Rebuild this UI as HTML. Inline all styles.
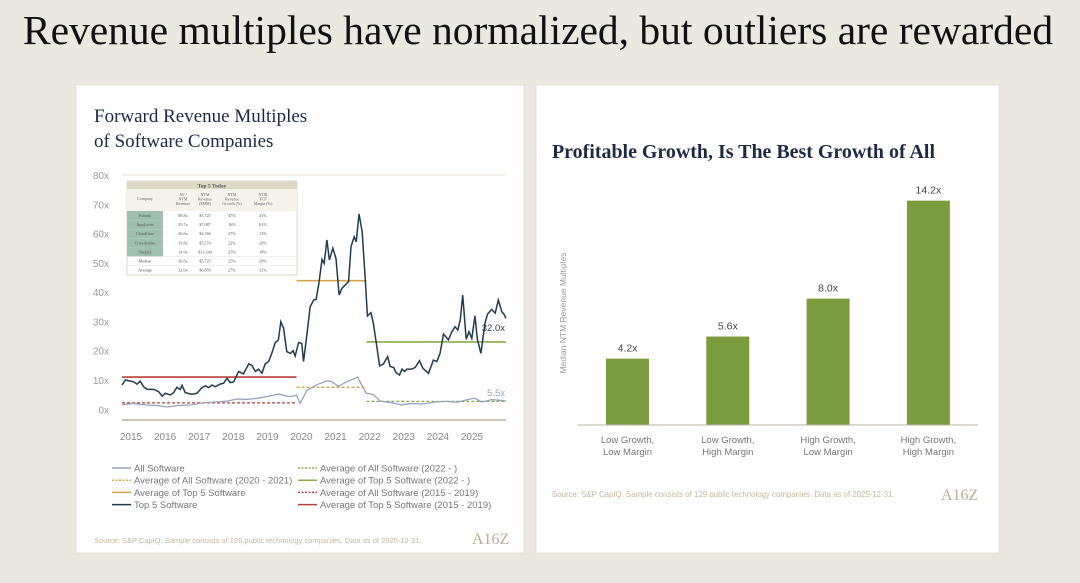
<!DOCTYPE html>
<html><head><meta charset="utf-8">
<style>
html,body{margin:0;padding:0;width:1080px;height:583px;overflow:hidden;background:#ebe8df;}
svg{display:block;font-family:"Liberation Sans",sans-serif;}
.serif{font-family:"Liberation Serif",serif;}
</style></head>
<body>
<svg id="s" width="1080" height="583" viewBox="0 0 1080 583">
<rect x="0" y="0" width="1080" height="583" fill="#ebe8df"/>
<text class="serif" x="538" y="44" text-anchor="middle" font-size="41.5" fill="#111">Revenue multiples have normalized, but outliers are rewarded</text>
<rect x="76" y="85" width="448" height="468" fill="#fff" stroke="#e4e0d2"/>
<rect x="536" y="85" width="463" height="468" fill="#fff" stroke="#e4e0d2"/>
<text class="serif" x="94" y="122" font-size="19" fill="#1c2a44">Forward Revenue Multiples</text>
<text class="serif" x="94" y="147" font-size="19" fill="#1c2a44">of Software Companies</text>
<text class="serif" x="552" y="158" font-size="19.5" font-weight="bold" fill="#1c2a44" textLength="383" lengthAdjust="spacingAndGlyphs">Profitable Growth, Is The Best Growth of All</text>
<g id="left"></g>
<g id="right"></g>
</svg>
<script>
const NS="http://www.w3.org/2000/svg";
function mk(p,t,a){const e=document.createElementNS(NS,t);for(const k in a)e.setAttribute(k,a[k]);p.appendChild(e);return e;}
// ---- Left chart data ----
const yTicks=[0,10,20,30,40,50,60,70,80];
const xYears=[2015,2016,2017,2018,2019,2020,2021,2022,2023,2024,2025];
const top5Dates=[2015.00,2015.10,2015.33,2015.43,2015.52,2015.62,2015.72,2015.91,2016.05,2016.15,2016.24,2016.38,2016.48,2016.57,2016.67,2016.72,2016.81,2017.00,2017.15,2017.29,2017.39,2017.48,2017.58,2017.67,2017.81,2017.91,2018.01,2018.10,2018.20,2018.34,2018.48,2018.63,2018.72,2018.82,2018.91,2019.01,2019.10,2019.20,2019.29,2019.39,2019.48,2019.55,2019.63,2019.72,2019.82,2019.90,2019.96,2020.06,2020.15,2020.20,2020.30,2020.39,2020.49,2020.56,2020.64,2020.73,2020.79,2020.87,2020.94,2021.04,2021.13,2021.22,2021.30,2021.39,2021.49,2021.56,2021.65,2021.71,2021.79,2021.88,2021.97,2022.03,2022.13,2022.20,2022.30,2022.38,2022.49,2022.61,2022.68,2022.78,2022.85,2022.95,2023.02,2023.09,2023.16,2023.30,2023.40,2023.52,2023.62,2023.78,2023.92,2024.02,2024.11,2024.21,2024.35,2024.45,2024.54,2024.62,2024.69,2024.76,2024.86,2024.94,2025.02,2025.11,2025.18,2025.28,2025.40,2025.47,2025.59,2025.69,2025.78,2025.88,2025.94,2026.00];
const top5Values=[8.3,10,9.4,8.6,9.6,7.7,6.8,6.8,6.0,4.5,5.5,4.9,5.7,7.5,6.8,8.2,5.7,5.1,5.5,7.4,8.0,7.4,8.3,7.7,8.6,8.9,10.6,9.1,9.4,12.9,12.1,15.5,15.0,12.9,13.7,12.3,15.5,16.3,19.1,22.8,23.7,29.9,27.6,19.7,19.1,20.0,18.2,22.8,22.5,16.3,25.9,35.0,37.3,37.5,43.0,51.2,49.8,57.8,51.0,55.0,51.5,39.0,41.3,42.4,43.6,55.5,58.9,57.2,66.7,60.6,44.1,31.9,33.0,29.4,21.4,14.8,15.5,18.0,14.6,14.3,12.5,11.7,13.7,12.9,13.7,13.7,14.3,16.6,14.0,12.3,16.8,16.3,19.1,25.7,23.7,26.5,28.2,27.1,30.5,39.0,23.9,26.5,24.2,31.9,23.9,19.1,29.4,32.5,34.1,32.8,37.3,33.3,32.5,31.1];
const allDates=[2015.0,2015.3,2015.7,2016.0,2016.3,2016.6,2017.0,2017.3,2017.7,2018.0,2018.3,2018.6,2018.9,2019.2,2019.5,2019.8,2020.0,2020.1,2020.3,2020.6,2020.9,2021.0,2021.2,2021.4,2021.6,2021.75,2021.9,2022.0,2022.2,2022.4,2022.7,2023.0,2023.3,2023.6,2024.0,2024.3,2024.6,2024.9,2025.1,2025.3,2025.6,2025.9,2026.0];
const allValues=[1.5,2,1.5,1.3,0.8,1.3,1.5,2.2,2.5,2.8,3.5,3.4,3.8,4.5,5.2,4.3,4.8,2.0,6.5,8.5,9.8,9.5,7.8,9.2,10.2,11,7.5,5.5,5.0,2.8,2.3,1.5,2.0,1.8,2.5,2.7,2.4,3.3,3.8,2.5,3.3,3.0,2.8];
const avgStarts=[2015,2015,2020,2020,2022,2022];
const avgEnds=[2020,2020,2022,2022,2026,2026];
const avgValues=[11.0,2.2,43.9,7.5,23.0,2.7];
const avgColors=["#b5413a","#b5413a","#d7a24f","#d7a24f","#86ad4a","#86ad4a"];
const avgDashed=[false,true,false,true,false,true];
const avgNames=["avg-top5-2015-2019","avg-all-2015-2019","avg-top5-2020-2021","avg-all-2020-2021","avg-top5-2022","avg-all-2022"];
const X0=122,X1=506,Y0=409.3,Y80=175;
const xs=t=>X0+(t-2015)/11*(X1-X0);
const xl=y=>131+(y-2015)*34.1;
const ys=v=>Y0-v/80*(Y0-Y80);
const L=document.getElementById('left');
yTicks.forEach(v=>{const t=mk(L,'text',{x:109,y:ys(v)+4,'text-anchor':'end','font-size':10,fill:'#9a9a9a'});t.textContent=v+'x';

});
const gl=mk(L,'line',{x1:122,x2:506,y1:ys(80),y2:ys(80),stroke:'#efece4','stroke-width':1.5});


const bl=mk(L,'line',{x1:122,x2:506,y1:420,y2:420,stroke:'#b8b3a0','stroke-width':1.5});


xYears.forEach(y=>{const t=mk(L,'text',{x:xl(y),y:440,'text-anchor':'middle','font-size':10,fill:'#888'});t.textContent=y;

});
avgValues.forEach((v,i)=>{const l=mk(L,'line',{x1:xs(avgStarts[i]),x2:xs(avgEnds[i]),y1:ys(v),y2:ys(v),stroke:avgColors[i],'stroke-width':avgDashed[i]?1.3:1.6,'stroke-dasharray':avgDashed[i]?'3,2':'none'});

});
const pa=mk(L,'polyline',{points:allDates.map((d,i)=>xs(d)+','+ys(allValues[i])).join(' '),fill:'none',stroke:'#97a3bf','stroke-width':1.3});


const pt=mk(L,'polyline',{points:top5Dates.map((d,i)=>xs(d)+','+ys(top5Values[i])).join(' '),fill:'none',stroke:'#1f3c4f','stroke-width':1.5});


let lb=mk(L,'text',{x:505,y:331,'text-anchor':'end','font-size':9.5,fill:'#1f3c4f'});lb.textContent='32.0x';


lb=mk(L,'text',{x:505,y:396,'text-anchor':'end','font-size':9.5,fill:'#97a3bf'});lb.textContent='5.5x';


// table
const T=mk(L,'g',{});


mk(T,'rect',{x:127,y:181,width:170,height:94,fill:'#fff',stroke:'#ddd8c8'});
mk(T,'rect',{x:127,y:181,width:170,height:8,fill:'#ddd9c6'});
mk(T,'rect',{x:127,y:189,width:170,height:22,fill:'#f5f2ea'});
let tt=mk(T,'text',{x:212,y:187.5,'text-anchor':'middle','font-size':5.5,'font-weight':'bold',fill:'#555','font-family':'Liberation Serif'});tt.textContent='Top 5 Today';
const cols=[145,173,195,222,253];
const heads=[['Company'],['AV /','NTM','Revenue'],['NTM','Revenue','($MM)'],['NTM','Revenue','Growth (%)'],['NTM','FCF','Margin (%)']];
heads.forEach((h,i)=>h.forEach((s,j)=>{const e=mk(T,'text',{x:cols[i]+ (i? 10:0),y:196+j*4.5+(h.length==1?4:0),'text-anchor':'middle','font-size':4,fill:'#666','font-family':'Liberation Serif'});e.textContent=s;}));
const rows=[['Palantir','68.8x','$5,725','47%','41%'],['AppLovin','29.7x','$7,087','16%','61%'],['Cloudflare','26.6x','$2,566','27%','13%'],['Crowdstrike','19.8x','$5,574','22%','29%'],['Shopify','14.9x','$13,344','25%','18%'],['Median','26.6x','$5,725','25%','29%'],['Average','32.0x','$6,859','27%','32%']];
rows.forEach((r,k)=>{const y=211+k*9.1;
if(k<5)mk(T,'rect',{x:127,y:y,width:36,height:9.1,fill:'#9fc0ad'});
if(k>=5)mk(T,'line',{x1:127,x2:297,y1:y,y2:y,stroke:'#e5e1d5','stroke-width':0.5});
r.forEach((s,i)=>{const e=mk(T,'text',{x:cols[i]+(i?10:0),y:y+6,'text-anchor':'middle','font-size':4.2,fill:'#555','font-family':'Liberation Serif'});e.textContent=s;});});
// legend
const legL=[['All Software','#97a3bf',0],['Average of All Software (2020 - 2021)','#d7a24f',1],['Average of Top 5 Software','#d7a24f',0],['Top 5 Software','#1f3c4f',0]];
const legR=[['Average of All Software (2022 - )','#86ad4a',1],['Average of Top 5 Software (2022 - )','#86ad4a',0],['Average of All Software (2015 - 2019)','#b5413a',1],['Average of Top 5 Software (2015 - 2019)','#b5413a',0]];
[[legL,112],[legR,298]].forEach(([arr,x0])=>arr.forEach((e,i)=>{const y=468+i*12.2;
const g=mk(L,'g',{});


mk(g,'line',{x1:x0,x2:x0+19,y1:y,y2:y,stroke:e[1],'stroke-width':1.5,'stroke-dasharray':e[2]?'2,1.5':'none'});
const t=mk(g,'text',{x:x0+22,y:y+3.5,'font-size':9.5,fill:'#777'});t.textContent=e[0];}));
lb=mk(L,'text',{x:94,y:543,'font-size':7.5,fill:'#c4b89a'});lb.textContent='Source: S&P CapIQ. Sample consists of 126 public technology companies. Data as of 2025-12-31.';


lb=mk(L,'text',{x:472,y:544,'font-size':16,fill:'#b9ae92','font-family':'Liberation Serif'});lb.textContent='A16Z';


// ---- Right chart ----
const cats=[['Low Growth,','Low Margin'],['Low Growth,','High Margin'],['High Growth,','Low Margin'],['High Growth,','High Margin']];
const barValues=[4.2,5.6,8.0,14.2];
const barLabels=['4.2x','5.6x','8.0x','14.2x'];
const R=document.getElementById('right');
const BY=425,PX=15.8,BW=43;
const bx=i=>627.5+i*100.3;
const by=v=>BY-v*PX;
barValues.forEach((v,i)=>{const r=mk(R,'rect',{x:bx(i)-BW/2,y:by(v),width:BW,height:BY-by(v),fill:'#7a9c3e'});


const t=mk(R,'text',{x:bx(i),y:by(v)-7,'text-anchor':'middle','font-size':10.5,fill:'#444'});t.textContent=barLabels[i];


cats[i].forEach((s,j)=>{const c=mk(R,'text',{x:bx(i),y:443+j*12,'text-anchor':'middle','font-size':9.5,fill:'#777'});c.textContent=s;

});});
const ax=mk(R,'line',{x1:578,x2:978,y1:BY,y2:BY,stroke:'#b8b3a0','stroke-width':1});


lb=mk(R,'text',{x:0,y:0,'font-size':8.5,fill:'#999','text-anchor':'middle',transform:'translate(566,313) rotate(-90)'});lb.textContent='Median NTM Revenue Multiples';


lb=mk(R,'text',{x:552,y:497,'font-size':7.85,fill:'#c4b89a'});lb.textContent='Source: S&P CapIQ. Sample consists of 129 public technology companies. Data as of 2025-12-31.';


lb=mk(R,'text',{x:941,y:500,'font-size':16,fill:'#b9ae92','font-family':'Liberation Serif'});lb.textContent='A16Z';


</script>
</body></html>
